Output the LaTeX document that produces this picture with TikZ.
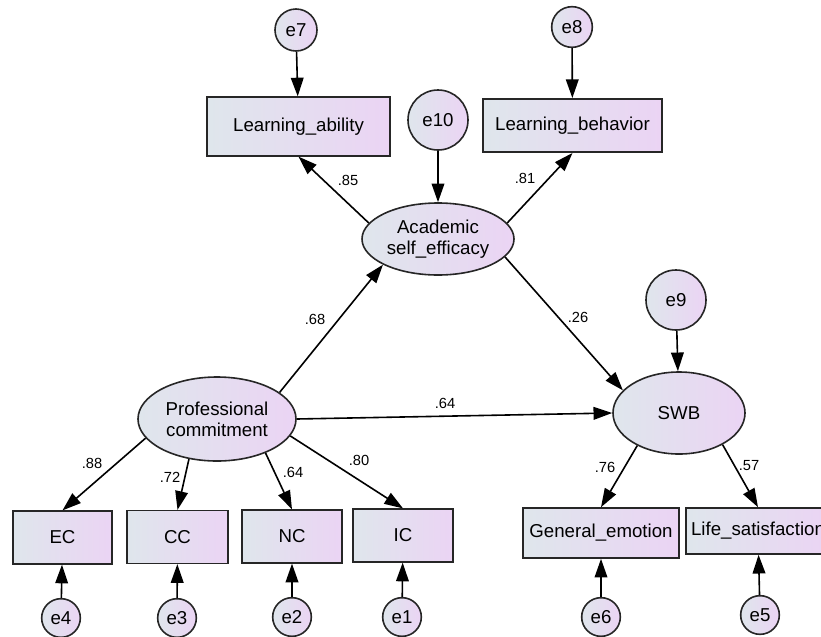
\documentclass[tikz,border=0pt]{standalone}
\usepackage{fontspec}
\setmainfont{Liberation Sans}
\usetikzlibrary{arrows.meta,shapes.geometric}
\definecolor{amosleft}{HTML}{DFE6EC}
\definecolor{amosright}{HTML}{EBD4F4}
\begin{document}
\begin{tikzpicture}[x=0.75pt,y=-0.75pt]
       \tikzstyle{obs} = [rectangle, draw=black!85, line width=1.2pt, left color=amosleft, right color=amosright, font=\fontsize{14}{16}\selectfont, inner sep=0pt];
       \tikzstyle{lat} = [ellipse, draw=black!85, line width=1.2pt, left color=amosleft, right color=amosright, font=\fontsize{14}{16}\selectfont, align=center, inner sep=0pt];
       \tikzstyle{err} = [circle, draw=black!85, line width=1.2pt, left color=amosleft, right color=amosright, font=\fontsize{14}{16}\selectfont, inner sep=0pt];
       \tikzstyle{path} = [line width=1.2pt, -{Triangle[length=14pt,width=9.5pt]}];
       \tikzstyle{coef} = [font=\fontsize{11}{13}\selectfont];
       \useasboundingbox (0,0) rectangle (821,636);
       % latent variables
       \node[lat, minimum width=114pt, minimum height=54pt] (ase) at (438,239) {Academic\\self\_efficacy};
       \node[lat, minimum width=118.5pt, minimum height=63pt] (pc) at (217,419) {Professional\\commitment};
       \node[lat, minimum width=99pt, minimum height=61.5pt] (swb) at (679,413) {SWB};
       % observed variables
       \node[obs, minimum width=137pt, minimum height=44pt] (la) at (298.5,126.5) {Learning\_ability};
       \node[obs, minimum width=134pt, minimum height=40pt] (lb) at (572.5,125.5) {Learning\_behavior};
       \node[obs, minimum width=74.5pt, minimum height=39.5pt] (ec) at (62.5,537.5) {EC};
       \node[obs, minimum width=75.5pt, minimum height=39.5pt] (cc) at (177.5,537) {CC};
       \node[obs, minimum width=75pt, minimum height=39.5pt] (nc) at (292,536.5) {NC};
       \node[obs, minimum width=75pt, minimum height=39.5pt] (ic) at (403,535.5) {IC};
       \node[obs, minimum width=117pt, minimum height=37.5pt] (ge) at (601,533) {General\_emotion};
       \node[obs, minimum width=108pt, minimum height=34.5pt] (ls) at (758,531) {Life\_satisfaction};
       % errors
       \node[err, minimum size=31.5pt] (e7) at (296,30) {e7};
       \node[err, minimum size=30.5pt] (e8) at (572,27) {e8};
       \node[err, minimum size=45pt] (e10) at (438,120) {e10};
       \node[err, minimum size=45pt] (e9) at (676,300) {e9};
       \node[err, minimum size=29pt] (e4) at (61,618) {e4};
       \node[err, minimum size=29pt] (e3) at (177,618) {e3};
       \node[err, minimum size=29pt] (e2) at (292,617) {e2};
       \node[err, minimum size=29pt] (e1) at (402,617) {e1};
       \node[err, minimum size=29pt] (e6) at (601,617) {e6};
       \node[err, minimum size=29pt] (e5) at (760,615) {e5};

       \draw[path] (e7) -- (la);
       \draw[path] (e8) -- (lb);
       \draw[path] (e10) -- (ase);
       \draw[path] (e9) -- (swb);
       \draw[path] (ase.167) -- (la.south);
       \draw[path] (ase.13) -- (lb.south);
       \draw[path] (pc.23) -- (ase.205);
       \draw[path] (ase.345) -- (swb.158);
       \draw[path] (pc.east) -- (swb.west);

       \draw[path] (pc.195) -- (ec.north);
       \draw[path] (pc.235) -- (cc.north);
       \draw[path] (pc.325) -- (nc.north);
       \draw[path] (pc.347) -- (ic.north);
       \draw[path] (swb.218) -- (ge.north);
       \draw[path] (swb.324) -- (ls.north);

       \draw[path] (e4) -- (ec);
       \draw[path] (e3) -- (cc);
       \draw[path] (e2) -- (nc);
       \draw[path] (e1) -- (ic);
       \draw[path] (e6) -- (ge);
       \draw[path] (e5) -- (ls);

       \node[coef] (c85) at (348,180) {.85};
       \node[coef] (c81) at (525,178) {.81};
       \node[coef] (c68) at (315,319) {.68};
       \node[coef] (c26) at (578,317) {.26};
       \node[coef] (c64a) at (445,403) {.64};
       \node[coef] (c88) at (92,463) {.88};
       \node[coef] (c72) at (170,477) {.72};
       \node[coef] (c64b) at (293,472) {.64};
       \node[coef] (c80) at (359,460) {.80};
       \node[coef] (c76) at (605,467) {.76};
       \node[coef] (c57) at (749,466) {.57};
     \end{tikzpicture}
\end{document}
